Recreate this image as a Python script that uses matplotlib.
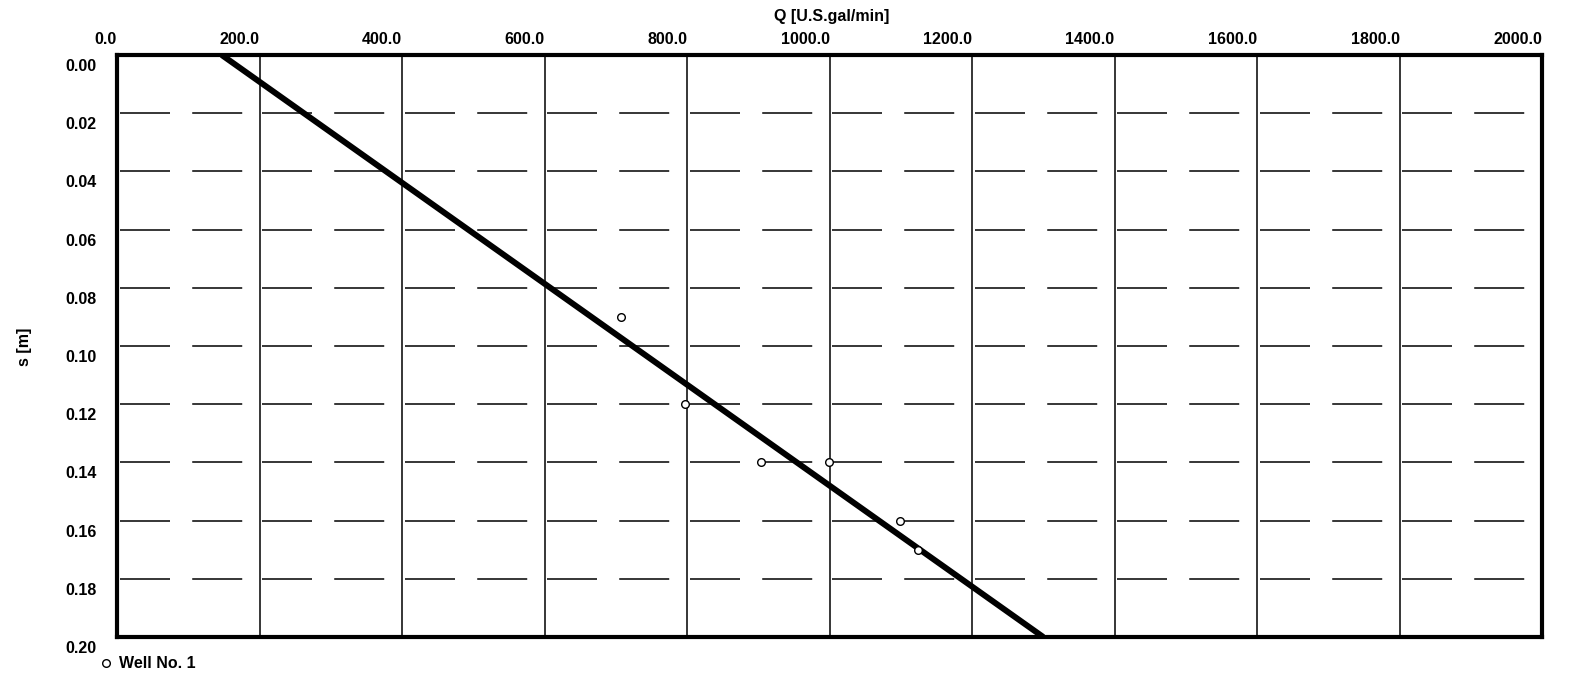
import numpy as np
import matplotlib
matplotlib.use("Agg")
import matplotlib.pyplot as plt
import matplotlib.transforms as mtransforms
from matplotlib.lines import Line2D

plt.rcParams['font.family'] = ['Liberation Sans', 'DejaVu Sans']
plt.rcParams['lines.scale_dashes'] = False

# Discharge (Q) and drawdown (s) measurements for Well No. 1
well_q = [708, 797, 904, 999, 1099, 1124]
well_s = [0.090, 0.120, 0.140, 0.140, 0.160, 0.170]

# Straight-line fit through the measurements
fit_q = [147, 1300]
fit_s = [0.0, 0.2]

q_ticks = np.arange(0, 2001, 200)
s_ticks = np.round(np.arange(0, 0.2001, 0.02), 2)
q_labels = [f"{v:.1f}" for v in q_ticks]
s_labels = [f"{v:.2f}" for v in s_ticks]

W, H = 1570, 674
fig = plt.figure(figsize=(W / 100, H / 100), dpi=100)
ax = fig.add_axes([117 / W, 1 - 637 / H, 1425 / W, 582 / H])

ax.set_xlim(0, 2000)
ax.set_ylim(0.2, 0.0)

# grid: solid verticals, dashed horizontals restarting in every cell
ax.vlines(q_ticks[1:-1], 0, 0.2, colors='black', linewidth=1.1, zorder=1)
ys = np.repeat(s_ticks[1:-1], len(q_ticks) - 1)
x0 = np.tile(q_ticks[:-1], len(s_ticks) - 2)
x1 = np.tile(q_ticks[1:], len(s_ticks) - 2)
ax.hlines(ys, x0 + 4, x1, colors='black', linewidth=1.1,
          linestyles=[(0, (36, 16))], zorder=1)

ax.plot(fit_q, fit_s, color='black', linewidth=4.3, solid_capstyle='butt', zorder=3)
ax.plot(well_q, well_s, linestyle='none', marker='o', markersize=5.5,
        markerfacecolor='white', markeredgecolor='black', markeredgewidth=1.0,
        zorder=4)

for sp in ax.spines.values():
    sp.set_linewidth(3.0)

fs = 11.5
ax.xaxis.tick_top()
ax.set_xticks(q_ticks)
ax.set_xticklabels(q_labels, fontsize=fs, fontweight='bold')
ax.set_yticks(s_ticks)
ax.set_yticklabels(s_labels, fontsize=fs, fontweight='bold')
ax.tick_params(axis='x', length=0, pad=6)
ax.tick_params(axis='y', length=0, pad=14.5)
for lab in ax.get_xticklabels():
    lab.set_ha('right')
shift = mtransforms.ScaledTranslation(0, -4 / 100, fig.dpi_scale_trans)
for lab in ax.get_yticklabels():
    lab.set_va('top')
    lab.set_transform(lab.get_transform() + shift)

fig.text(832 / W, 1 - 16 / H, "Q [U.S.gal/min]", fontsize=fs, fontweight='bold',
         ha='center', va='center')
fig.text(25 / W, 1 - 347 / H, "s [m]", fontsize=fs, fontweight='bold',
         ha='center', va='center', rotation=90)

handle = Line2D([], [], linestyle='none', marker='o', markersize=5.5,
                markerfacecolor='white', markeredgecolor='black', markeredgewidth=1.0)
fig.legend([handle], ["Well No. 1"], loc='center left',
           bbox_to_anchor=(100 / W, 1 - 664 / H), bbox_transform=fig.transFigure,
           frameon=False, borderpad=0, borderaxespad=0, handlelength=0.8,
           handletextpad=0.4, prop={'size': fs, 'weight': 'bold'})

fig.savefig("out.png", dpi=100)
